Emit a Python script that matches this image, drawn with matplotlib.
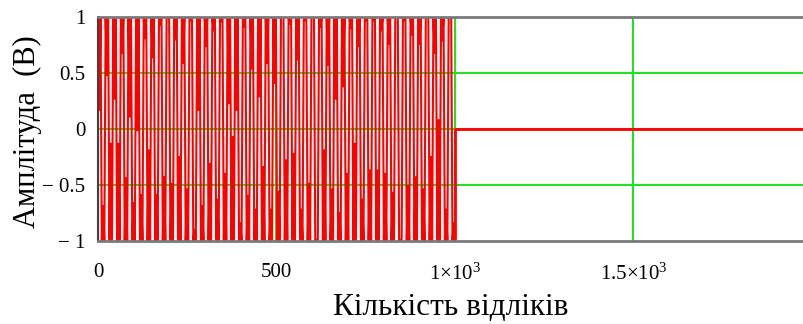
import numpy as np
import matplotlib
matplotlib.use("Agg")
import matplotlib.pyplot as plt

plt.rcParams["mathtext.fontset"] = "custom"
plt.rcParams["mathtext.rm"] = "Liberation Serif"
plt.rcParams["mathtext.it"] = "Liberation Serif:italic"

# Signal record: 1000 samples, zero-padded up to 2000
n_samples = 1000
n_total = 2000

# Lower ends of the downward swings from the +1 crests (V)
crest_dips = [0.17, 0.48, 0.27, 0.68, 0.11, -0.01, 0.81, 0.64, 0.93, 0.99, 0.80,
              0.59, 0.97, 0.17, 0.74, 0.88, 0.96, 0.23, 0.17, 0.91, 0.54, 0.29, 0.59, 0.41,
              1.00, 0.94, 0.62, 0.97, 1.00, 0.91, 0.57, 0.27, 0.38, 0.90, 0.74,
              0.97, 0.97, 0.88, 0.76, 1.00, 0.97, 0.84, 0.76, 1.00, 0.68, 0.79, 0.99]
# Upper ends of the upward swings from the -1 troughs (V)
trough_rises = [-0.69, -0.13, -0.13, -0.44, -0.66, -0.59, -0.19, -0.59, -0.43, -0.49, -0.25, -0.54,
                -0.90, -0.69, -0.31, -0.63, -0.40, -0.07, -0.84, -0.60, -0.72, -0.34, -0.72, -0.56,
                -0.28, -0.22, -0.72, -0.49, -0.99, -0.19, -0.54, -0.75, -0.40, -0.13, -0.63, -0.37,
                -0.37, -0.40, -0.57, -0.99, -0.51, -0.43, -0.54, -0.25, 0.08, -0.72, -0.84]

x_ticks = [0, 500, 1000, 1500]
x_tick_labels = ["0", "500", r"1×10$^{3}$", r"1.5×10$^{3}$"]
y_ticks = [-1, -0.5, 0, 0.5, 1]
y_tick_labels = ["− 1", "− 0.5", "0", "0.5", "1"]

# Build the sample sequence from the crest/trough swings
k = min(len(crest_dips), len(trough_rises))
signal = []
for i in range(k):
    signal += [1.0, crest_dips[i], 1.0, -1.0, trough_rises[i], -1.0]
signal = np.array(signal)
x_sig = np.linspace(0, n_samples, len(signal))

W, H, DPI = 804, 324, 100
fig = plt.figure(figsize=(W / DPI, H / DPI), dpi=DPI)
left_px, top_px, bottom_px = 98, 17, 241
ax = fig.add_axes([left_px / W, 1 - bottom_px / H, 1 - left_px / W, (bottom_px - top_px) / H])

x_right = (W - left_px) / (455 - left_px) * n_samples
ax.set_xlim(0, x_right)
ax.set_ylim(-1, 1)

green = "#22e022"
for gx in [500, 1000, 1500]:
    ax.axvline(gx, color=green, lw=1.5, zorder=1)
for gy in [-0.5, 0, 0.5]:
    ax.axhline(gy, color=green, lw=1.5, zorder=1)

red = "#ff0000"
ax.plot(x_sig, signal, color=red, lw=1.5, zorder=2)
# zero padding after the record
ax.plot([n_samples, n_samples, n_total], [signal[-1], 0.0, 0.0], color=red, lw=2.0, zorder=2)

for side in ["top", "bottom"]:
    ax.spines[side].set_color("#7a7a7a")
    ax.spines[side].set_linewidth(2.0)
ax.spines["left"].set_color("#404040")
ax.spines["left"].set_linewidth(1.5)
ax.spines["right"].set_visible(False)
for s in ax.spines.values():
    s.set_zorder(3)

serif = ["Liberation Serif", "DejaVu Serif"]
ax.set_xticks(x_ticks)
ax.set_xticklabels(x_tick_labels, family=serif, fontsize=15)
ax.set_yticks(y_ticks)
ax.set_yticklabels(y_tick_labels, family=serif, fontsize=15)
ax.tick_params(length=0, pad=9)
ax.tick_params(axis="x", pad=16)

ax.set_xlabel("Кількість відліків", family=serif, fontsize=22.5, labelpad=6)
fig.text(27 / W, 1 - 132 / H, "Амплітуда  (В)", family=serif, fontsize=22,
         rotation=90, ha="center", va="center")

fig.savefig("out.png", dpi=DPI)
